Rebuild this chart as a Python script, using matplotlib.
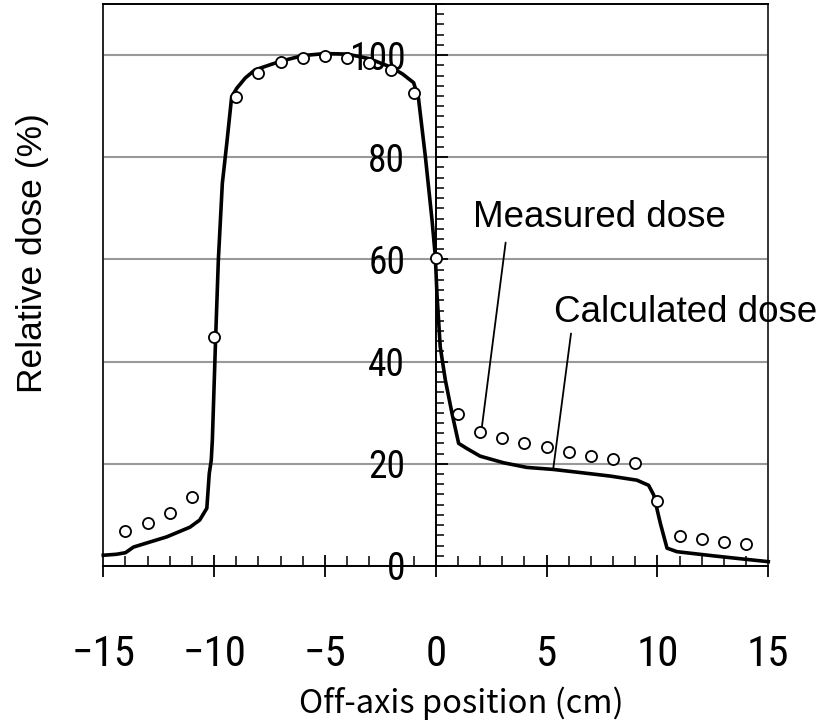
import matplotlib
matplotlib.use("Agg")
import matplotlib.pyplot as plt
from matplotlib.ticker import MultipleLocator
from matplotlib.transforms import ScaledTranslation
from matplotlib import font_manager

# Calculated dose profile (off-axis position cm, relative dose %)
calc_x = [-15.0, -14.4, -14.0, -13.64, -13.12, -12.14, -11.09, -10.65, -10.33,
          -10.22, -10.13, -10.08, -9.93, -9.81, -9.63, -9.43, -9.21, -8.98,
          -8.6, -8.16, -7.0, -6.0, -5.0, -4.0, -3.0, -2.0, -1.5, -1.0, -0.78,
          -0.47, -0.17, -0.02, 0.05, 0.2, 0.43, 0.73, 1.03, 1.4, 2.0, 3.06,
          4.1, 5.3, 6.5, 7.87, 9.07, 9.6, 9.83, 10.13, 10.43, 10.88, 12.5,
          14.0, 15.0]
calc_y = [2.1, 2.3, 2.6, 3.7, 4.4, 5.7, 7.6, 9.0, 11.3,
          18.1, 20.7, 24.7, 44.9, 59.9, 74.9, 82.7, 91.8, 93.5,
          95.5, 97.1, 98.8, 99.9, 100.3, 100.2, 99.3, 97.6, 96.3, 94.6, 91.5,
          80.1, 67.7, 60.5, 53.4, 42.9, 36.4, 29.9, 24.0, 23.0, 21.5, 20.2,
          19.3, 18.9, 18.3, 17.6, 16.8, 15.8, 13.9, 8.35, 3.5, 2.8, 2.0,
          1.3, 0.85]

# Measured dose points
meas_x = [-14, -13, -12, -11, -10, -9, -8, -7, -6, -5, -4, -3, -2, -1, 0,
          1, 2, 3, 4, 5, 6, 7, 8, 9, 10, 11, 12, 13, 14]
meas_y = [6.9, 8.5, 10.4, 13.6, 44.9, 91.8, 96.5, 98.6, 99.4, 99.9, 99.5,
          98.5, 97.1, 92.5, 60.3, 29.7, 26.3, 25.1, 24.0, 23.2, 22.4, 21.6,
          21.0, 20.2, 12.8, 5.9, 5.3, 4.7, 4.3]

x_label = "Off-axis position (cm)"
y_label = "Relative dose (%)"
ann_measured = "Measured dose"
ann_calculated = "Calculated dose"

# pick a condensed font if one is installed
installed = {f.name for f in font_manager.fontManager.ttflist}
condensed = [f for f in ['Liberation Sans Narrow', 'Roboto Condensed',
                         'DejaVu Sans Condensed', 'Open Sans Condensed']
             if f in installed]
narrow_stretch = [f for f in font_manager.fontManager.ttflist
                  if f.name in ('DejaVu Sans', 'Roboto', 'Open Sans')
                  and str(f.stretch) in ('condensed', 'semi-condensed', '75', '87')]
tick_font = condensed + ['DejaVu Sans']
use_stretch = 'condensed' if (not condensed and narrow_stretch) else 'normal'
text_font = ['Liberation Sans', 'DejaVu Sans']

fig = plt.figure(figsize=(8.33, 7.28), dpi=100)
ax = fig.add_axes([103.3 / 833, 162 / 728, 665 / 833, 562 / 728])
ax.set_xlim(-15, 15)
ax.set_ylim(0, 110)

ax.spines['left'].set_position(('data', 0))
for s in ['left', 'bottom', 'top', 'right']:
    ax.spines[s].set_linewidth(1.4)
    ax.spines[s].set_color('black')
ax.spines['right'].set_color('#333333')
ax.axvline(-15, color='#222222', lw=1.4, clip_on=False, zorder=2.5)

ax.xaxis.set_major_locator(MultipleLocator(5))
ax.xaxis.set_minor_locator(MultipleLocator(1))
ax.yaxis.set_major_locator(MultipleLocator(20))
ax.yaxis.set_minor_locator(MultipleLocator(2))

cond = bool(condensed) or use_stretch == 'condensed'
xls = 31 if cond else 26
yls = 27 if cond else 23
ax.tick_params(axis='x', which='major', direction='inout', length=16,
               width=1.3, pad=41 if cond else 44, labelsize=xls)
ax.tick_params(axis='x', which='minor', direction='in', length=7, width=1.1)
ax.tick_params(axis='y', which='major', direction='in', length=8.5,
               width=1.3, pad=22, labelsize=yls)
ax.tick_params(axis='y', which='minor', direction='in', length=6, width=1.1)
for lab in ax.get_xticklabels() + ax.get_yticklabels():
    lab.set_family(tick_font)
    lab.set_stretch(use_stretch)

# the "0" label on the vertical axis sits a little lower in the reference
zero_tick = ax.yaxis.get_major_ticks()[0]
zero_tick.label1.set_transform(zero_tick.label1.get_transform()
                               + ScaledTranslation(0, -6 / 72, fig.dpi_scale_trans))

ax.yaxis.grid(True, which='major', color='#999999', lw=1.5)
ax.set_axisbelow(True)

ax.plot(calc_x, calc_y, color='black', lw=2.6, zorder=3,
        solid_joinstyle='round', clip_on=False)
ax.plot(meas_x, meas_y, linestyle='none', marker='o', ms=8, mfc='white',
        mec='black', mew=1.3, zorder=4, clip_on=False)

ax.text(1.68, 66.4, ann_measured, fontsize=26.5, family=text_font,
        ha='left', va='baseline')
ax.text(5.34, 47.8, ann_calculated, fontsize=26.5, family=text_font,
        ha='left', va='baseline')
i2 = meas_x.index(2)
ax.annotate('', xy=(meas_x[i2] + 0.07, meas_y[i2] + 0.6), xytext=(3.15, 63.3),
            arrowprops=dict(arrowstyle='-', lw=1.3, color='black',
                            shrinkA=0, shrinkB=0))
ax.annotate('', xy=(5.3, 19.1), xytext=(6.1, 45.5),
            arrowprops=dict(arrowstyle='-', lw=1.3, color='black',
                            shrinkA=0, shrinkB=0))

ax.set_xlabel(x_label, fontsize=23.5, family=['Noto Sans CJK JP', 'DejaVu Sans'])
ax.xaxis.set_label_coords(0.539, -0.2438)
ax.xaxis.label.set_va('center')
ax.set_ylabel(y_label, fontsize=25.5, family=text_font)
ax.yaxis.set_label_coords(-0.107, 0.557)
ax.yaxis.label.set_va('center')

fig.savefig('out.png', dpi=100)
